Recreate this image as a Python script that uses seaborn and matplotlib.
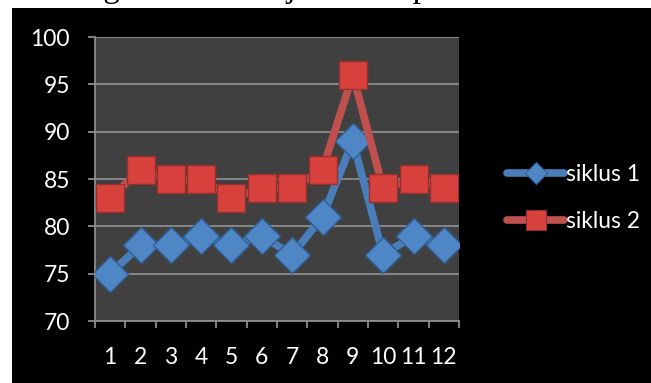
import matplotlib
matplotlib.use('Agg')
import matplotlib.pyplot as plt
import matplotlib.patches as mpatches
import pandas as pd
import seaborn as sns

# data
pertemuan = list(range(1, 13))
siklus_1 = [75, 78, 78, 79, 78, 79, 77, 81, 89, 77, 79, 78]
siklus_2 = [83, 86, 85, 85, 83, 84, 84, 86, 96, 84, 85, 84]
series_names = ['siklus 1', 'siklus 2']
y_ticks = [70, 75, 80, 85, 90, 95, 100]

df = pd.DataFrame({
    'pertemuan': pertemuan * 2,
    'nilai': siklus_1 + siklus_2,
    'seri': [series_names[0]] * len(pertemuan) + [series_names[1]] * len(pertemuan),
})

sns.set_style('dark')
plt.rcParams['font.family'] = ['Lato', 'DejaVu Sans']

W, H = 651, 383
fig = plt.figure(figsize=(W / 100, H / 100), dpi=100)
fig.patch.set_facecolor('white')

# black chart background (the screenshot is cropped, leaving a white strip)
fig.patches.append(mpatches.Rectangle((12 / W, 0), 1 - 12 / W, (H - 8) / H,
                                      transform=fig.transFigure, facecolor='black',
                                      edgecolor='none', zorder=-5))
# cut off caption at the very top
fig.text(-32 / W, 1 + 3 / H, 'Perbandingan hasil belajar siswa pada siklus 1 dan 2',
         family='Liberation Serif', fontsize=24, color='black', ha='left', va='baseline',
         zorder=-6)

ax = fig.add_axes([95 / W, 1 - 321 / H, 364 / W, 284 / H])
ax.set_facecolor('#404040')

palette = {'siklus 1': '#4a7ebb', 'siklus 2': '#c0504d'}
markers = {'siklus 1': 'D', 'siklus 2': 's'}
sns.lineplot(data=df, x='pertemuan', y='nilai', hue='seri', style='seri',
             palette=palette, markers=markers, dashes=False, lw=5.5,
             ax=ax, legend=True, zorder=3)

edge = {'siklus 1': '#2f5f96', 'siklus 2': '#94302d'}
face = {'siklus 1': '#4f86c6', 'siklus 2': '#d9413d'}
for line, name in zip(ax.get_lines()[:2], series_names):
    line.set_markersize(18 if name == 'siklus 1' else 19.5)
    line.set_markerfacecolor(face[name])
    line.set_markeredgecolor(edge[name])
    line.set_markeredgewidth(1.0)
    line.set_solid_capstyle('round')

ax.set_xlim(0.5, 12.5)
ax.set_ylim(70, 100)
ax.set_yticks(y_ticks)
ax.set_xticks(pertemuan)
ax.set_xticks([p + 0.5 for p in [0] + pertemuan], minor=True)
ax.grid(False)
ax.yaxis.grid(True, color='#8c8c8c', lw=1.3, zorder=1)
ax.set_axisbelow(True)
for s in ['top', 'right']:
    ax.spines[s].set_visible(False)
for s in ['left', 'bottom']:
    ax.spines[s].set_visible(True)
    ax.spines[s].set_color('#8c8c8c')
    ax.spines[s].set_linewidth(1.3)

ax.tick_params(axis='y', which='major', length=5, width=1.3, color='#8c8c8c',
               labelcolor='white', labelsize=16.5, pad=13, left=True)
ax.tick_params(axis='x', which='major', length=0, labelsize=16.5, labelcolor='white', pad=19)
ax.tick_params(axis='x', which='minor', length=5, width=1.3, color='#8c8c8c', bottom=True)
ax.set_xlabel('')
ax.set_ylabel('')

handles, labels = ax.get_legend_handles_labels()
for h, name in zip(handles, labels):
    h.set_linewidth(5.5)
    h.set_solid_capstyle('round')
    h.set_markerfacecolor(face[name])
    h.set_markeredgecolor(edge[name])
    h.set_markersize(11 if name == 'siklus 1' else 14)
leg = ax.legend(handles, labels, loc='center left', bbox_to_anchor=(496 / W, 1 - 198 / H),
                bbox_transform=fig.transFigure, frameon=False, fontsize=16.5,
                labelcolor='white', handlelength=2.45, handletextpad=0.1,
                labelspacing=1.1, borderpad=0)

fig.savefig('out.png', dpi=100, facecolor=fig.get_facecolor())
